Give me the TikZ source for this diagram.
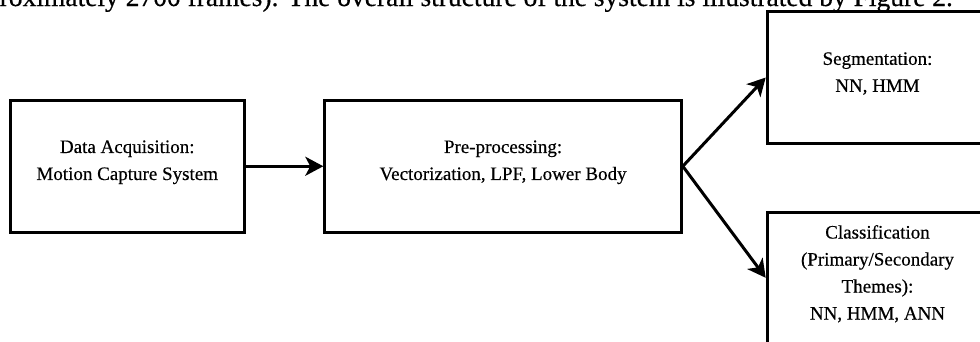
\documentclass[tikz,border=0pt]{standalone}
\usepackage{fontspec}
\setmainfont{Liberation Serif}[FakeBold=0.4]
\usetikzlibrary{arrows.meta}

\begin{document}
\begin{tikzpicture}[x=1pt,y=-1pt,
    blockbox/.style={draw,line width=3pt,inner sep=0pt,minimum height=131.5pt},
    blocktext/.style={align=center,inner sep=0pt,yshift=4pt,font=\fontsize{19}{27}\selectfont},
    flow/.style={line width=3pt,-{Stealth[length=18pt,width=19pt,inset=5pt]}}]
  \useasboundingbox (0,0) rectangle (980,341);
  \clip (0,0) rectangle (980,341);
  \node[anchor=base east,inner sep=0pt,font=\fontsize{27.5}{33}\selectfont] (caption) at (953,6)
    {roximately 2700 frames). The overall structure of the system is illustrated by Figure 2.};
  \foreach \n/\x/\y/\w/\t in {acq/127.25/166.25/233.5/{Data Acquisition:\\Motion Capture System},
    prep/503.05/166.25/356.5/{Pre-processing:\\Vectorization, LPF, Lower Body},
    seg/877.5/77.5/220.6/{Segmentation:\\NN, HMM},
    cls/877.5/277.8/220.6/{Classification\\(Primary/Secondary\\Themes):\\NN, HMM, ANN}}
  {
    \node[blockbox,minimum width=\w pt] (\n) at (\x,\y) {};
    \node[blocktext] (\n-text) at (\n.center) {\t};
    }
  \draw[flow] (acq.east) -- (prep.west);
  \foreach \m in {seg, cls}
    \draw[flow] (prep.east) -- (\m.west);
\end{tikzpicture}
\end{document}
